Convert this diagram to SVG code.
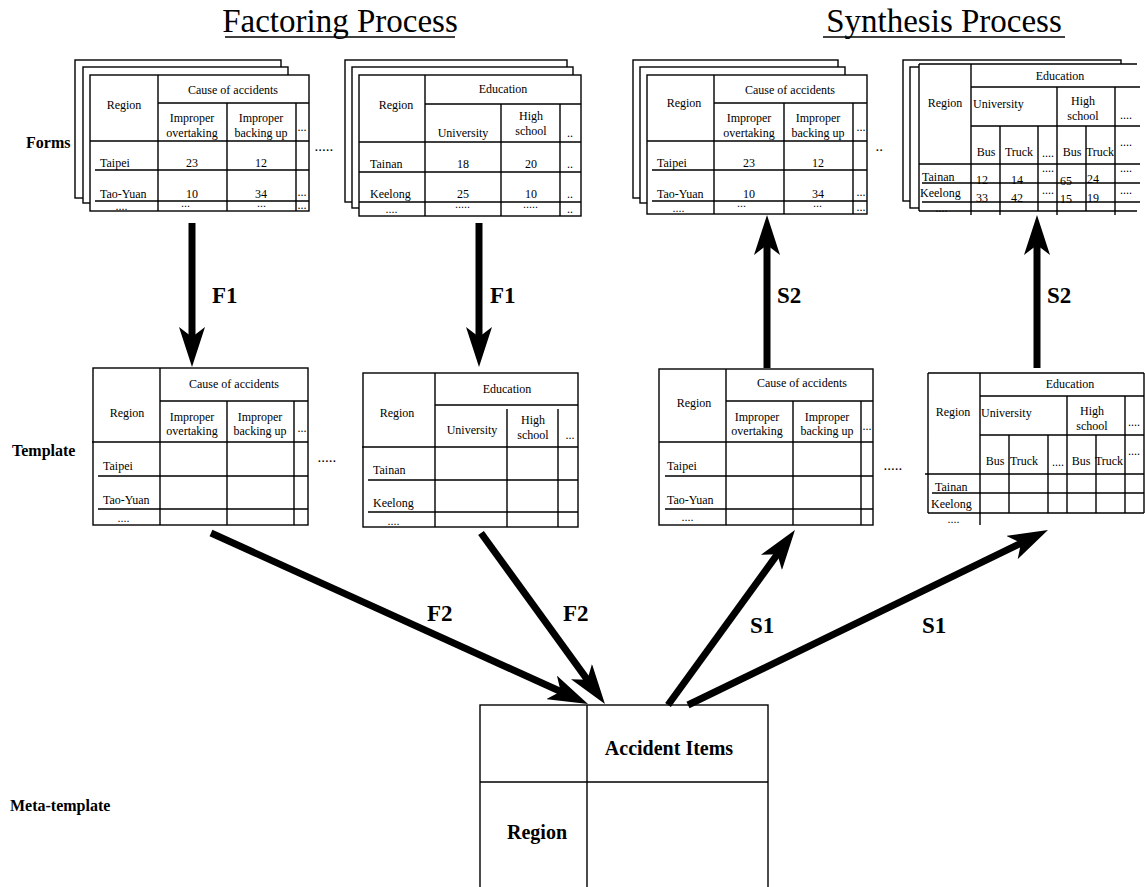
<svg xmlns="http://www.w3.org/2000/svg" width="1145" height="887" viewBox="0 0 1145 887">
<style>
.ln{stroke:#000;stroke-width:1.4;fill:none}
.sh{stroke:#000;stroke-width:1.4;fill:#fff}
.tx{font-family:"Liberation Serif","Times New Roman",serif;font-size:12px;fill:#000}
.m{text-anchor:middle}
.d{font-family:"Liberation Serif",serif;font-size:11px;font-weight:bold;fill:#000;letter-spacing:1px}
.ds{font-family:"Liberation Serif",serif;font-size:8px;font-weight:bold;fill:#000;letter-spacing:1px;text-anchor:middle}
.lab{font-family:"Liberation Serif","Times New Roman",serif;font-size:16px;font-weight:bold;fill:#000}
.title{font-family:"Liberation Serif","Times New Roman",serif;font-size:33px;fill:#000;text-anchor:middle}
.al{font-family:"Liberation Serif","Times New Roman",serif;font-size:23px;font-weight:bold;fill:#000}
.arr{stroke:#000;stroke-width:7;fill:none;marker-end:url(#ah)}
.big{font-family:"Liberation Serif","Times New Roman",serif;font-size:20px;font-weight:bold;fill:#000;text-anchor:middle}
</style>
<defs>
<marker id="ah" markerUnits="userSpaceOnUse" viewBox="0 0 40 26" markerWidth="40" markerHeight="26" refX="13" refY="13" orient="auto">
<path d="M0,0 L40,13 L0,26 L10,13 Z" fill="#000"/>
</marker>
</defs>
<rect width="1145" height="887" fill="#fff"/>

<g id="titles">
<text class="title" x="340" y="32">Factoring Process</text>
<line x1="225" y1="37" x2="455" y2="37" stroke="#000" stroke-width="1.5"/>
<text class="title" x="944" y="32">Synthesis Process</text>
<line x1="823" y1="37" x2="1065" y2="37" stroke="#000" stroke-width="1.5"/>
</g>

<g id="side-labels">
<text class="lab" x="26" y="148">Forms</text>
<text class="lab" x="12" y="456">Template</text>
<text class="lab" x="10" y="811">Meta-template</text>
</g>

<!-- Form stack 1 -->
<g id="form1">
<rect class="sh" x="75" y="60" width="206" height="138"/>
<rect class="sh" x="83" y="67" width="205" height="136"/>
<rect class="sh" x="90" y="75" width="219" height="136"/>
<path class="ln" d="M158,75 V211 M158,103 H309 M90,141 H309 M227,103 V211 M296,103 V211 M95,170 H309 M95,201 H309"/>
<text class="tx m" x="124" y="109">Region</text>
<text class="tx m" x="233" y="94">Cause of accidents</text>
<text class="tx m" x="192" y="122">Improper</text>
<text class="tx m" x="192" y="137">overtaking</text>
<text class="tx m" x="261" y="122">Improper</text>
<text class="tx m" x="261" y="137">backing up</text>
<text class="tx m" x="302" y="131" font-size="8">...</text>
<text class="tx" x="100" y="167">Taipei</text>
<text class="tx m" x="192" y="167">23</text>
<text class="tx m" x="261" y="167">12</text>
<text class="tx" x="100" y="198">Tao-Yuan</text>
<text class="tx m" x="192" y="198">10</text>
<text class="tx m" x="261" y="198">34</text>
<text class="tx m" x="302" y="196" font-size="8">...</text>
<text class="tx m" x="302" y="209" font-size="8">...</text>
<text class="ds" x="122" y="210">....</text>
<text class="ds" x="186" y="207">...</text>
<text class="ds" x="262" y="207">...</text>
</g>

<!-- Form stack 2 -->
<g id="form2">
<rect class="sh" x="345" y="60" width="222" height="142"/>
<rect class="sh" x="352" y="67" width="221" height="141"/>
<rect class="sh" x="359" y="75" width="222" height="141"/>
<path class="ln" d="M425,75 V216 M425,104 H581 M359,142 H581 M501,104 V216 M560,104 V216 M359,172 H581 M359,202 H581"/>
<text class="tx m" x="503" y="93">Education</text>
<text class="tx m" x="396" y="109">Region</text>
<text class="tx m" x="463" y="137">University</text>
<text class="tx m" x="531" y="120">High</text>
<text class="tx m" x="531" y="135">school</text>
<text class="tx m" x="570" y="137" font-size="8">..</text>
<text class="tx" x="370" y="168">Tainan</text>
<text class="tx m" x="463" y="168">18</text>
<text class="tx m" x="531" y="168">20</text>
<text class="tx m" x="570" y="168" font-size="8">..</text>
<text class="tx" x="370" y="198">Keelong</text>
<text class="tx m" x="463" y="198">25</text>
<text class="tx m" x="531" y="198">10</text>
<text class="tx m" x="570" y="198" font-size="8">..</text>
<text class="tx m" x="570" y="213" font-size="8">..</text>
<text class="ds" x="392" y="213">....</text>
<text class="ds" x="463" y="208">.....</text>
<text class="ds" x="531" y="208">.....</text>
</g>

<!-- Form stack 3 -->
<g id="form3">
<rect class="sh" x="633" y="60" width="205" height="138"/>
<rect class="sh" x="640" y="67" width="205" height="136"/>
<rect class="sh" x="647" y="75" width="220" height="139"/>
<path class="ln" d="M714,75 V214 M714,103 H867 M647,141 H867 M784,103 V214 M853,103 V214 M652,170 H867 M652,201 H867"/>
<text class="tx m" x="684" y="107">Region</text>
<text class="tx m" x="790" y="94">Cause of accidents</text>
<text class="tx m" x="749" y="122">Improper</text>
<text class="tx m" x="749" y="137">overtaking</text>
<text class="tx m" x="818" y="122">Improper</text>
<text class="tx m" x="818" y="137">backing up</text>
<text class="tx m" x="861" y="131" font-size="8">...</text>
<text class="tx" x="657" y="167">Taipei</text>
<text class="tx m" x="749" y="167">23</text>
<text class="tx m" x="818" y="167">12</text>
<text class="tx" x="657" y="198">Tao-Yuan</text>
<text class="tx m" x="749" y="198">10</text>
<text class="tx m" x="818" y="198">34</text>
<text class="tx m" x="861" y="196" font-size="8">...</text>
<text class="tx m" x="861" y="211" font-size="8">...</text>
<text class="ds" x="679" y="212">....</text>
<text class="ds" x="742" y="207">...</text>
<text class="ds" x="818" y="207">...</text>
</g>

<!-- Form stack 4 -->
<g id="form4">
<rect class="sh" x="903" y="60" width="218" height="141"/>
<rect class="sh" x="910" y="67" width="218" height="141"/>
<rect x="919" y="64" width="218" height="147" fill="#fff"/>
<path class="ln" d="M919,64 H1137 M919,64 V211 M971,64 V215 M971,87 H1140 M971,126 H1140 M919,164 H1140 M1000,126 V215 M1038,126 V211 M1057,87 V215 M1086,126 V211 M1115,87 V215 M922,183 H1140 M922,202 H1140 M919,211 H1137"/>
<text class="tx m" x="1060" y="80">Education</text>
<text class="tx m" x="945" y="107">Region</text>
<text class="tx" x="973" y="108">University</text>
<text class="tx m" x="1083" y="105">High</text>
<text class="tx m" x="1083" y="120">school</text>
<text class="tx m" x="1126" y="119" font-size="7">....</text>
<text class="tx m" x="986" y="156">Bus</text>
<text class="tx m" x="1019" y="156">Truck</text>
<text class="tx m" x="1048" y="157" font-size="7">....</text>
<text class="tx m" x="1072" y="156">Bus</text>
<text class="tx m" x="1100" y="156">Truck</text>
<text class="tx m" x="1126" y="146" font-size="7">....</text>
<text class="tx" x="922" y="181">Tainan</text>
<text class="tx m" x="982" y="184">12</text>
<text class="tx m" x="1017" y="184">14</text>
<text class="tx m" x="1048" y="172" font-size="7">....</text>
<text class="tx m" x="1066" y="185">65</text>
<text class="tx m" x="1093" y="183">24</text>
<text class="tx m" x="1126" y="172" font-size="7">....</text>
<text class="tx" x="920" y="197">Keelong</text>
<text class="tx m" x="982" y="202">33</text>
<text class="tx m" x="1017" y="202">42</text>
<text class="tx m" x="1048" y="194" font-size="7">....</text>
<text class="tx m" x="1066" y="203">15</text>
<text class="tx m" x="1093" y="202">19</text>
<text class="tx m" x="1126" y="194" font-size="7">....</text>
<text class="ds" x="942" y="212">....</text>
</g>

<g id="ellipses">
<text class="d" x="315" y="151" font-size="13">.....</text>
<text class="d" x="876" y="151" font-size="13">..</text>
<text class="d" x="318" y="462" font-size="13">.....</text>
<text class="d" x="884" y="470" font-size="13">.....</text>
</g>

<!-- Template 1 -->
<g id="template1">
<rect class="sh" x="93" y="368" width="215" height="157"/>
<path class="ln" d="M160,368 V525 M160,401 H308 M92,442 H308 M227,401 V525 M294,401 V525 M98,476 H308 M98,509 H308"/>
<text class="tx m" x="234" y="388">Cause of accidents</text>
<text class="tx m" x="127" y="417">Region</text>
<text class="tx m" x="192" y="421">Improper</text>
<text class="tx m" x="192" y="435">overtaking</text>
<text class="tx m" x="260" y="421">Improper</text>
<text class="tx m" x="260" y="435">backing up</text>
<text class="tx m" x="302" y="432" font-size="8">...</text>
<text class="tx" x="103" y="470">Taipei</text>
<text class="tx" x="103" y="504">Tao-Yuan</text>
<text class="ds" x="124" y="522">....</text>
</g>

<!-- Template 2 -->
<g id="template2">
<rect class="sh" x="363" y="373" width="215" height="154"/>
<path class="ln" d="M435,373 V527 M435,405 H578 M362,447 H578 M507,409 V527 M558,409 V527 M368,480 H578 M368,512 H578"/>
<text class="tx m" x="507" y="393">Education</text>
<text class="tx m" x="397" y="417">Region</text>
<text class="tx m" x="472" y="434">University</text>
<text class="tx m" x="533" y="424">High</text>
<text class="tx m" x="533" y="439">school</text>
<text class="tx m" x="570" y="439" font-size="8">...</text>
<text class="tx" x="373" y="474">Tainan</text>
<text class="tx" x="373" y="507">Keelong</text>
<text class="ds" x="394" y="525">....</text>
</g>

<!-- Template 3 -->
<g id="template3">
<rect class="sh" x="659" y="369" width="214" height="156"/>
<path class="ln" d="M726,369 V525 M726,401 H873 M659,442 H873 M793,401 V525 M861,401 V525 M665,476 H873 M665,509 H873"/>
<text class="tx m" x="802" y="387">Cause of accidents</text>
<text class="tx m" x="694" y="407">Region</text>
<text class="tx m" x="757" y="421">Improper</text>
<text class="tx m" x="757" y="435">overtaking</text>
<text class="tx m" x="827" y="421">Improper</text>
<text class="tx m" x="827" y="435">backing up</text>
<text class="tx m" x="867" y="430" font-size="8">...</text>
<text class="tx" x="667" y="470">Taipei</text>
<text class="tx" x="667" y="504">Tao-Yuan</text>
<text class="ds" x="688" y="521">....</text>
</g>

<!-- Template 4 -->
<g id="template4">
<rect x="928" y="373" width="216" height="140" fill="#fff"/>
<path class="ln" d="M928,373 H1144 M928,373 V513 M1144,373 V513 M980,373 V525 M980,396 H1144 M980,435 H1144 M925,474 H1144 M932,493 H1144 M928,513 H1144 M1009,435 V513 M1048,435 V513 M1067,396 V513 M1096,435 V513 M1125,396 V513"/>
<text class="tx m" x="1070" y="388">Education</text>
<text class="tx m" x="953" y="416">Region</text>
<text class="tx" x="981" y="417">University</text>
<text class="tx m" x="1092" y="415">High</text>
<text class="tx m" x="1092" y="430">school</text>
<text class="tx m" x="1134" y="426" font-size="7">....</text>
<text class="tx m" x="995" y="465">Bus</text>
<text class="tx m" x="1024" y="465">Truck</text>
<text class="tx m" x="1058" y="466" font-size="7">....</text>
<text class="tx m" x="1081" y="465">Bus</text>
<text class="tx m" x="1109" y="465">Truck</text>
<text class="tx m" x="1134" y="455" font-size="7">....</text>
<text class="tx" x="935" y="491">Tainan</text>
<text class="tx" x="931" y="508">Keelong</text>
<text class="ds" x="954" y="523">....</text>
</g>

<!-- Meta-template -->
<g id="meta-template">
<rect class="sh" x="480" y="705" width="288" height="190"/>
<path class="ln" d="M587,705 V887 M480,782 H768"/>
<text class="big" x="669" y="755">Accident Items</text>
<text class="big" x="537" y="839">Region</text>
</g>

<g id="connectors">
<line class="arr" x1="192" y1="223" x2="192" y2="340"/>
<line class="arr" x1="479" y1="223" x2="479" y2="340"/>
<line class="arr" x1="767" y1="368" x2="767" y2="242"/>
<line class="arr" x1="1037" y1="368" x2="1037" y2="242"/>
<line class="arr" x1="211" y1="533" x2="563.4" y2="692.8"/>
<line class="arr" x1="481" y1="533" x2="589.1" y2="682.1"/>
<line class="arr" x1="668" y1="705" x2="779.1" y2="551.9"/>
<line class="arr" x1="688" y1="705" x2="1023.7" y2="541.8"/>
</g>

<g id="connector-labels">
<text class="al" x="212" y="303">F1</text>
<text class="al" x="490" y="303">F1</text>
<text class="al" x="777" y="303">S2</text>
<text class="al" x="1047" y="303">S2</text>
<text class="al" x="427" y="621">F2</text>
<text class="al" x="563" y="621">F2</text>
<text class="al" x="750" y="633">S1</text>
<text class="al" x="922" y="633">S1</text>
</g>
</svg>
